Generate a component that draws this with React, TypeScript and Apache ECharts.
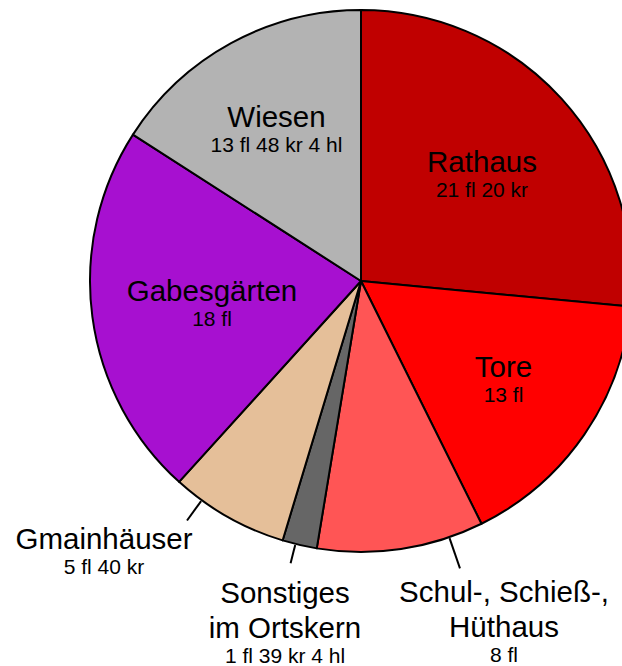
import React, { useEffect, useRef } from 'react';
import * as echarts from 'echarts';

// Data (values in Gulden; 1 fl = 60 kr, 1 kr = 8 hl) — slice sizes as drawn in the reference
const categories = [
  'Rathaus',
  'Tore',
  'Schul-, Schieß-,\nHüthaus',
  'Sonstiges\nim Ortskern',
  'Gmainhäuser',
  'Gabesgärten',
  'Wiesen',
];
const valueTexts = ['21 fl 20 kr', '13 fl', '8 fl', '1 fl 39 kr 4 hl', '5 fl 40 kr', '18 fl', '13 fl 48 kr 4 hl'];
const values = [21.333, 13, 8, 1.658, 5.667, 18, 12.808];

// Styling
const colors = ['#C00000', '#FF0000', '#FF5555', '#666666', '#E5BF99', '#A710D0', '#B3B3B3'];
const CX = 361;
const CY = 281;
const R = 271;
// label block anchor (center x, top y)
const labelPos: number[][] = [
  [482, 144],
  [503.5, 348.5],
  [504, 574],
  [285, 574.5],
  [104, 520.5],
  [212, 272.5],
  [276.5, 99],
];
// leader line angle (deg clockwise from top) and length; null = no leader
const leaderAngles: (number | null)[] = [null, null, 161, 194, 216, null, null];
const leaderLen = [0, 0, 32, 19, 24, 0, 0];

const FONT = '"Liberation Sans", Arial, sans-serif';

export default function App() {
  const ref = useRef<HTMLDivElement>(null);
  useEffect(() => {
    if (!ref.current) return;
    const chart = echarts.init(ref.current, undefined, { renderer: 'svg' });
    const data = categories.map((name, i) => ({
      name,
      value: values[i],
      itemStyle: { color: colors[i] },
      labelLine: { show: leaderAngles[i] != null },
    }));
    chart.setOption({
      animation: false,
      backgroundColor: '#ffffff',
      series: [
        {
          type: 'pie',
          center: [CX, CY],
          radius: R,
          startAngle: 90,
          clockwise: true,
          avoidLabelOverlap: false,
          minShowLabelAngle: 0,
          itemStyle: { borderColor: '#000000', borderWidth: 2 },
          emphasis: { disabled: true },
          label: {
            show: true,
            position: 'outside',
            align: 'center',
            color: '#000000',
            fontFamily: FONT,
            formatter: (p: any) => {
              const i = p.dataIndex;
              const lines = String(categories[i]).split('\n').map((s) => `{n|${s}}`);
              return lines.join('\n') + `\n{v|${valueTexts[i]}}`;
            },
            rich: {
              n: { fontSize: 29.5, lineHeight: 35, fontFamily: FONT, color: '#000000', align: 'center' },
              v: { fontSize: 21, lineHeight: 21, fontFamily: FONT, color: '#000000', align: 'center' },
            },
          },
          labelLine: {
            lineStyle: { color: '#000000', width: 2 },
          },
          labelLayout: (params: any) => {
            const i = params.dataIndex;
            const res: any = {
              x: labelPos[i][0],
              y: labelPos[i][1],
              align: 'center',
              verticalAlign: 'top',
            };
            const a = leaderAngles[i];
            if (a != null) {
              const rad = (a * Math.PI) / 180;
              const sx = Math.sin(rad);
              const sy = -Math.cos(rad);
              const p0 = [CX + sx * (R + 1), CY + sy * (R + 1)];
              const p1 = [CX + sx * (R + 1 + leaderLen[i]), CY + sy * (R + 1 + leaderLen[i])];
              res.labelLinePoints = [p0, p1, p1];
            }
            return res;
          },
          data,
        },
      ],
    });
    return () => chart.dispose();
  }, []);
  return (
    <div
      ref={ref}
      style={{ position: 'fixed', left: 0, top: 0, width: 622, height: 666, background: '#ffffff' }}
    />
  );
}
